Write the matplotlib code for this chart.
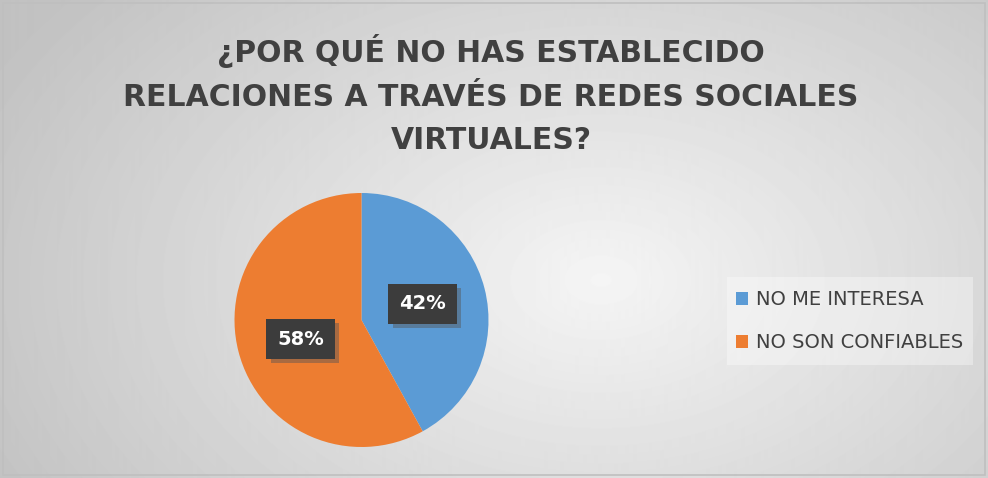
import numpy as np
import matplotlib
matplotlib.use('Agg')
import matplotlib.pyplot as plt
from matplotlib.patches import Rectangle, Patch
import matplotlib.patheffects as pe

# data
labels = ['NO ME INTERESA', 'NO SON CONFIABLES']
values = [42, 58]
colors = ['#5b9bd5', '#ed7d31']
title = '¿POR QUÉ NO HAS ESTABLECIDO\nRELACIONES A TRAVÉS DE REDES SOCIALES\nVIRTUALES?'

fig = plt.figure(figsize=(9.88, 4.78), dpi=100)

# radial gradient background
bg = fig.add_axes([0, 0, 1, 1])
yy, xx = np.mgrid[0:478, 0:988]
d = np.sqrt(((xx - 600) / 650.0) ** 2 + ((yy - 280) / 430.0) ** 2)
g = np.clip(0.96 - 0.19 * d, 0.76, 0.96)
bg.imshow(g, cmap='gray', vmin=0, vmax=1, aspect='auto', extent=[0, 988, 478, 0])
bg.add_patch(Rectangle((3, 3), 982, 472, fill=False, ec='#bfbfbf', lw=1.2))
bg.set_xlim(0, 988)
bg.set_ylim(478, 0)
bg.axis('off')

fig.text(0.497, 0.928, title, ha='center', va='top', fontsize=21.5, fontweight='bold',
         color='#404040', linespacing=1.62, family='DejaVu Sans')

# pie
ax = fig.add_axes([234 / 988, 1 - 447 / 478, 255 / 988, 254 / 478])
wedges, _ = ax.pie(values, colors=colors, startangle=90, counterclock=False,
                   wedgeprops=dict(linewidth=0))
ax.set_xlim(-1, 1)
ax.set_ylim(-1, 1)
ax.set_aspect('equal')

# data labels
label_pos = [(0.48, 0.126), (-0.48, -0.15)]
for (lx, ly), v in zip(label_pos, values):
    ax.text(lx, ly, f'{v}%', ha='center', va='center', fontsize=14, fontweight='bold',
            color='white',
            bbox=dict(boxstyle='square,pad=0.55', fc='#3c3c3c', ec='none',
                      path_effects=[pe.withSimplePatchShadow(offset=(3, -3), shadow_rgbFace='#555555', alpha=0.45)]))

# legend
bg.add_patch(Rectangle((727, 277), 246, 88, fc='white', ec='none', alpha=0.35))
handles = [Patch(fc=c, ec='none') for c in colors]
leg = fig.legend(handles, labels, loc='center left', bbox_to_anchor=(718 / 988, 1 - 321 / 478),
                 frameon=False, fontsize=14, labelcolor='#404040',
                 handlelength=0.65, handleheight=0.65, handletextpad=0.4, labelspacing=1.25)

fig.savefig('out.png', dpi=100)
